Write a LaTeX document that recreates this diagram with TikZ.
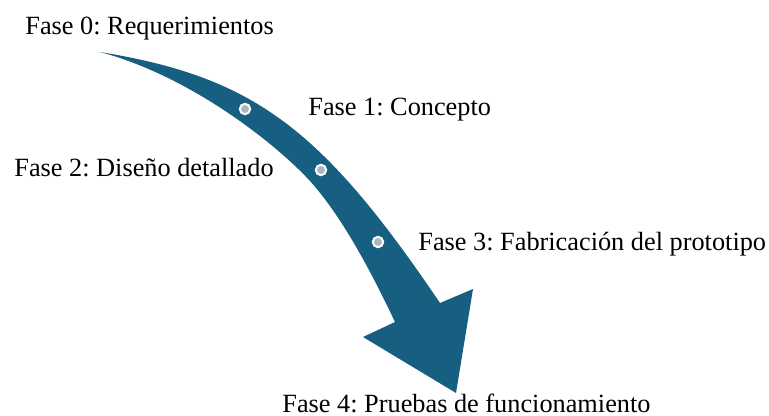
\documentclass[tikz,border=0pt]{standalone}
\usepackage{fontspec}
\setmainfont{Liberation Serif}
\usepackage{tikz}
\definecolor{flecha}{RGB}{22,95,128}
\definecolor{hitogris}{RGB}{172,182,192}
\tikzset{
x=0.5pt, y=-0.5pt, % one unit is one pixel of the sketch
fase/.style={anchor=base west, inner sep=0pt, font=\fontsize{13.15}{15}\selectfont}, % sets the look of each phase label
hito/.style={circle, fill=hitogris, draw=white, line width=1pt, minimum size=5.2pt, inner sep=0pt}, % small marks on the arrow
}
\frenchspacing
\begin{document}
\begin{tikzpicture}
        \useasboundingbox (0,0) rectangle (769,416);
        % arrow
        \fill[flecha] (100,52) .. controls (253,77) and (321,127) .. (440,303)
        -- (473,289) -- (456,393) -- (363,337) -- (395,322)
        .. controls (375,280) and (345,220) .. (310,181)
        .. controls (275,143) and (190,76) .. (100,52)
        -- cycle;
        % marks
        \node[hito] (hito1) at (245,109) {};
        \node[hito] (hito2) at (321,170) {};
        \node[hito] (hito3) at (378,242) {};
        % labels
        \node[fase] (fase0) at (25,35) {Fase 0: Requerimientos};
        \node[fase] (fase1) at (308,116) {Fase 1: Concepto};
        \node[fase] (fase2) at (14,177) {Fase 2: Diseño detallado};
        \node[fase] (fase3) at (418,250) {Fase 3: Fabricación del prototipo};
        \node[fase] (fase4) at (282,412) {Fase 4: Pruebas de funcionamiento};
    \end{tikzpicture}
\end{document}
